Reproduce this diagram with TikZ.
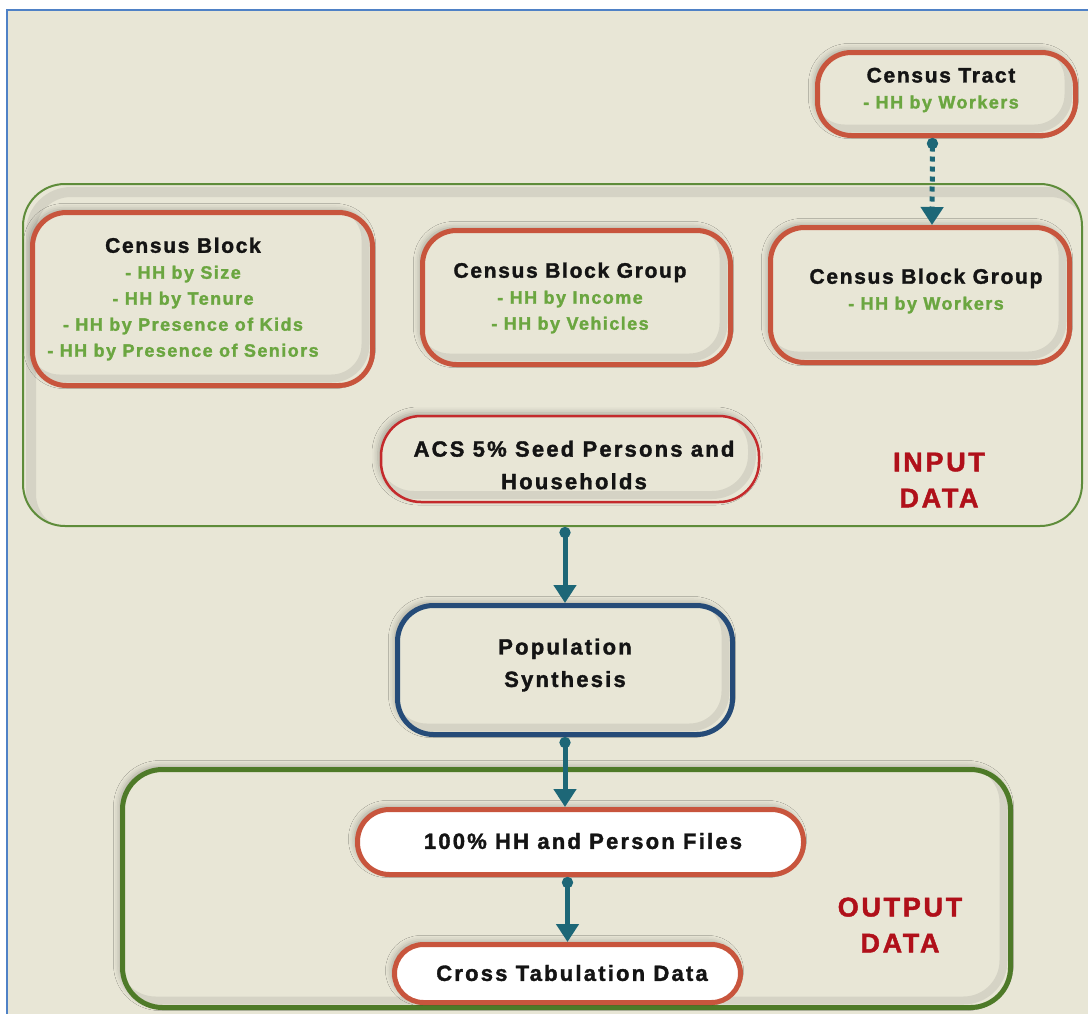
\documentclass[tikz,border=0pt]{standalone}
\usepackage{fontspec}
\setmainfont{Liberation Sans}
\newfontfamily\heavy{Liberation Sans Bold}[LetterSpace=8, FakeBold=1.6]
\usetikzlibrary{arrows.meta,shadows.blur}

\definecolor{paper}{HTML}{E8E6D6}
\definecolor{frameblue}{HTML}{4F81C6}
\definecolor{boxred}{HTML}{C8553D}
\definecolor{seedred}{HTML}{C42A2C}
\definecolor{ingreen}{HTML}{5E8C3A}
\definecolor{outgreen}{HTML}{4E7A28}
\definecolor{synblue}{HTML}{254B78}
\definecolor{flowteal}{HTML}{1D6777}
\definecolor{itemgreen}{HTML}{6BA640}
\definecolor{tagred}{HTML}{B0101A}

\newcommand\boxtitle[1]{{\fontsize{21}{26}\selectfont\color{black!92}#1}}

\tikzset{
  lift/.style={blur shadow={shadow xshift=-3pt, shadow yshift=3pt,
      shadow blur radius=6pt, shadow opacity=28}},
  % soft grey band just inside the lower right edge
  innerlow/.style={path picture={\draw[black, opacity=.08, line width=8pt, rounded corners=#1]
      ([xshift=-7pt,yshift=7pt]path picture bounding box.south west) rectangle
      ([xshift=-7pt,yshift=7pt]path picture bounding box.north east);}},
  innerlow/.default=34pt,
  % soft grey band just inside the upper left edge
  innerhigh/.style={path picture={\draw[black, opacity=.08, line width=10pt, rounded corners=#1]
      ([xshift=8pt,yshift=-8pt]path picture bounding box.south west) rectangle
      ([xshift=8pt,yshift=-8pt]path picture bounding box.north east);}},
  innerhigh/.default=40pt,
  databox/.style={draw=boxred, line width=5pt, fill=paper, rounded corners=34pt,
      lift, innerlow, inner sep=0pt},
  seedbox/.style={draw=seedred, line width=2.5pt, fill=paper, rounded corners=40pt,
      lift, innerlow=40pt, inner sep=0pt},
  synbox/.style={draw=synblue, line width=5pt, fill=paper, rounded corners=36pt,
      lift, innerlow=36pt, inner sep=0pt},
  pillbox/.style={draw=boxred, line width=5pt, fill=white, rounded corners=#1,
      lift, inner sep=0pt},
  inframe/.style={draw=ingreen, line width=2pt, fill=paper, rounded corners=42pt,
      innerhigh, inner sep=0pt},
  outframe/.style={draw=outgreen, line width=5pt, fill=paper, rounded corners=40pt,
      lift, innerlow=40pt, inner sep=0pt},
  % texts set inside the boxes
  itemtext/.style={inner sep=0pt, align=center, text=itemgreen,
      font=\heavy\fontsize{18}{26}\selectfont},
  bigtext/.style={inner sep=0pt, align=center, text=black!92,
      font=\heavy\addfontfeature{LetterSpace=10}\fontsize{22}{32.5}\selectfont},
  tag/.style={inner sep=0pt, text=tagred, align=center,
      font=\heavy\addfontfeature{LetterSpace=10}\fontsize{27}{36}\selectfont},
  flow/.style={draw=flowteal, line width=5pt,
      {Circle[length=11pt]}-{Triangle[length=18pt,width=22pt]}},
}

\begin{document}
\begin{tikzpicture}[x=1pt, y=-1pt]
  \useasboundingbox (0,0) rectangle (1088,1013);
  \fill[white] (0,0) rectangle (1088,1013);
  \draw[frameblue, line width=1.6pt, fill=paper] (7,10) rectangle (1110,1030);

  % group frames
  \node[inframe, minimum width=1059, minimum height=342] (inbox) at (552.5,355) {};
  \node[outframe, minimum width=888, minimum height=238] (outbox) at (566.5,888.5) {};

  % input data boxes
  \node[databox, minimum width=258, minimum height=83] (tract) at (946.5,94) {};
  \node[databox, minimum width=340, minimum height=173] (block) at (202.5,299) {};
  \node[databox, minimum width=308, minimum height=134] (cbgM) at (576.5,297.5) {};
  \node[databox, minimum width=299, minimum height=135] (cbgR) at (920,295) {};
  \node[seedbox, minimum width=378, minimum height=86] (seed) at (570,459) {};

  \node[itemtext] (tractT) at (941,90) {\boxtitle{Census Tract}\\- HH by Workers};
  \node[itemtext] (blockT) at (183,299) {\boxtitle{Census Block}\\- HH by Size\\- HH by Tenure\\
      - HH by Presence of Kids\\- HH by Presence of Seniors};
  \node[itemtext] (cbgMT) at (570,298) {\boxtitle{Census Block Group}\\- HH by Income\\- HH by Vehicles};
  \node[itemtext] (cbgRT) at (926,291) {\boxtitle{Census Block Group}\\- HH by Workers};
  \node[bigtext] (seedT) at (574,465) {ACS 5\% Seed Persons and\\Households};
  \node[tag] (intag) at (939,480) {INPUT\\DATA};

  % synthesis
  \node[synbox, minimum width=335, minimum height=129] (pop) at (565,670) {};
  \node[bigtext] (popT) at (565,665) {Population\\Synthesis};

  % output data
  \node[pillbox=32pt, minimum width=446, minimum height=65] (hh) at (580.5,842) {};
  \node[pillbox=29pt, minimum width=346, minimum height=58] (cross) at (567.5,973.5) {};
  \node[bigtext] (hhT) at (583,841) {100\% HH and Person Files};
  \node[bigtext] (crossT) at (572,973) {Cross Tabulation Data};
  \node[tag] (outtag) at (900,925) {OUTPUT\\DATA};

  % connectors
  \draw[flow, dash pattern=on 5pt off 5pt] ([xshift=-14pt]tract.south) -- ([xshift=12pt]cbgR.north);
  \draw[flow] (inbox.south -| pop.north) -- (pop.north);
  \draw[flow] (pop.south) -- (pop.south |- hh.north);
  \draw[flow] (hh.south -| cross.north) -- (cross.north);
\end{tikzpicture}
\end{document}
